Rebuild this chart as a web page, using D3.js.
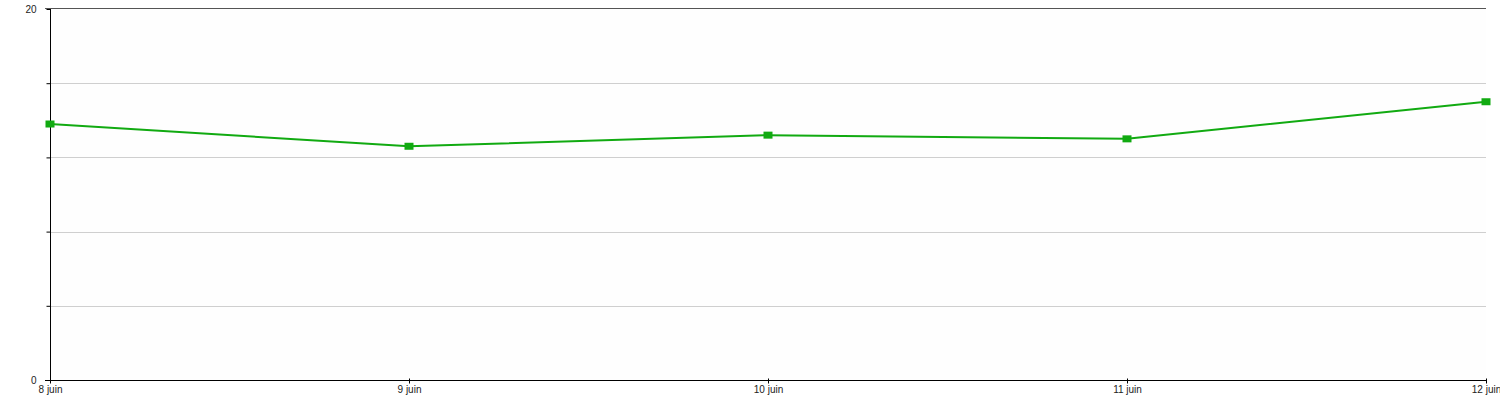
<!DOCTYPE html>
<html>
<head>
<meta charset="utf-8">
<script src="https://cdn.jsdelivr.net/npm/d3@7"></script>
<style>
  body { margin: 0; background: #fff; }
  text { font-family: "Liberation Sans", Arial, sans-serif; font-size: 10px; fill: #222; }
</style>
</head>
<body>
<div id="chart"></div>
<script>
var dates = ["2024-06-08", "2024-06-09", "2024-06-10", "2024-06-11", "2024-06-12"];
var values = [13.8, 12.6, 13.2, 13.0, 15.0];
var yTicks = [0, 4, 8, 12, 16, 20];
var yLabels = [0, 20];

var width = 1500,
    height = 400;
var margin = {top: 9, right: 14, bottom: 20, left: 50};

var parse = d3.timeParse("%Y-%m-%d");
var data = dates.map(function(d, i) {
    return {date: parse(d), value: values[i]};
});

var svg = d3.select("#chart")
    .append("svg")
    .attr("width", width)
    .attr("height", height);

var x = d3.scaleTime()
    .domain(d3.extent(data, function(d) { return d.date; }))
    .range([margin.left, width - margin.right]);

var y = d3.scaleLinear()
    .domain([0, 20])
    .range([height - margin.bottom, margin.top]);

// plot background
svg.append("rect")
    .attr("x", margin.left)
    .attr("y", margin.top)
    .attr("width", width - margin.right - margin.left)
    .attr("height", height - margin.bottom - margin.top)
    .attr("fill", "#fefefe");

// grid lines
svg.append("g")
    .selectAll("line")
    .data(yTicks.filter(function(t) { return t > 0 && t < 20; }))
    .enter().append("line")
    .attr("x1", margin.left)
    .attr("x2", width - margin.right)
    .attr("y1", function(d) { return Math.round(y(d)) + 0.5; })
    .attr("y2", function(d) { return Math.round(y(d)) + 0.5; })
    .attr("stroke", "#cfcfcf")
    .attr("stroke-width", 1);

// top border
svg.append("line")
    .attr("x1", margin.left - 5)
    .attr("x2", width - margin.right)
    .attr("y1", y(20) - 0.5)
    .attr("y2", y(20) - 0.5)
    .attr("stroke", "#555")
    .attr("stroke-width", 1);

// y axis
var yAxis = d3.axisLeft(y)
    .tickValues(yTicks)
    .tickSize(4)
    .tickFormat(function(d) { return yLabels.indexOf(d) >= 0 ? d : ""; });

var gy = svg.append("g")
    .attr("transform", "translate(" + (margin.left + 0.5) + ",0)")
    .call(yAxis);
gy.select(".domain").attr("stroke", "#000").attr("d", "M0," + y(20) + "V" + y(0));
gy.selectAll(".tick line").attr("stroke", "#000");
gy.selectAll(".tick text")
    .attr("x", -14)
    .attr("dy", "0.32em")
    .style("font-family", "Liberation Sans, Arial, sans-serif")
    .style("font-size", "10px")
    .attr("fill", "#222");

// x axis
var xAxis = d3.axisBottom(x)
    .tickValues(data.map(function(d) { return d.date; }))
    .tickSize(3)
    .tickFormat(function(d) { return d.getDate() + " juin"; });

var gx = svg.append("g")
    .attr("transform", "translate(0," + (y(0) + 0.5) + ")")
    .call(xAxis);
gx.select(".domain").attr("stroke", "#000").attr("d", "M" + (margin.left - 5) + ",0H" + (width - margin.right));
gx.selectAll(".tick line").attr("stroke", "#000").attr("y1", -2);
gx.selectAll(".tick text")
    .attr("y", 5)
    .attr("dy", "0.71em")
    .style("font-family", "Liberation Sans, Arial, sans-serif")
    .style("font-size", "10px")
    .attr("fill", "#222");

// line
var line = d3.line()
    .x(function(d) { return x(d.date); })
    .y(function(d) { return y(d.value); });

svg.append("path")
    .datum(data)
    .attr("d", line)
    .attr("fill", "none")
    .attr("stroke", "#11aa11")
    .attr("stroke-width", 2);

// square markers
svg.selectAll(".pt")
    .data(data)
    .enter().append("rect")
    .attr("class", "pt")
    .attr("x", function(d) { return x(d.date) - 4.5; })
    .attr("y", function(d) { return y(d.value) - 3.5; })
    .attr("width", 9)
    .attr("height", 7)
    .attr("fill", "#11aa11");
</script>
</body>
</html>
